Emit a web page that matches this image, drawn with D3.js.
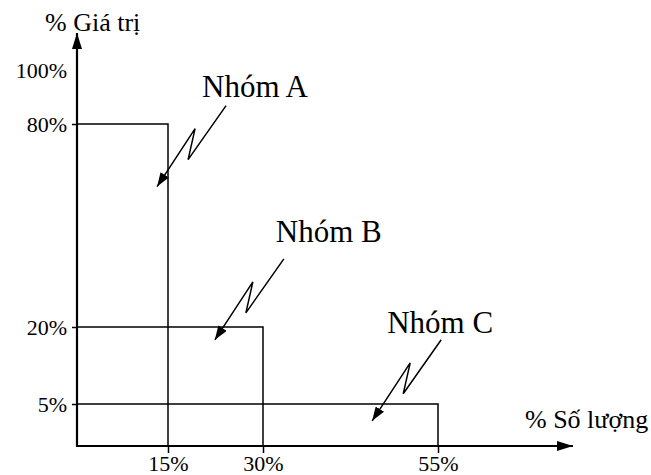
<!DOCTYPE html>
<html>
<head>
<meta charset="utf-8">
<script src="https://cdn.jsdelivr.net/npm/d3@7"></script>
</head>
<body style="margin:0">
<svg id="chart" width="651" height="475"></svg>
<script>
// ABC groups: share of quantity vs share of value
var groups = ["Nhóm A", "Nhóm B", "Nhóm C"];
var qtyPct = [15, 30, 55];
var valuePct = [80, 20, 5];
var yTicks = [5, 20, 80, 100];
var xTicks = [15, 30, 55];
// where each zigzag arrow points (in chart units)
var tipQty = [13.2, 22.4, 45.6];
var tipValue = [61.5, 17.5, 3];

var FONT = "Liberation Serif";

var svg = d3.select("#chart");

// the diagram is schematic, so the scales are piecewise
var x = d3.scaleLinear().domain([0, 15, 30, 55]).range([77, 168, 263, 438]);
var y = d3.scaleLinear().domain([0, 5, 20, 80, 100]).range([446, 404, 327, 124, 70]);

var defs = svg.append("defs");
defs.append("marker")
    .attr("id", "head")
    .attr("viewBox", "0 0 16 10")
    .attr("refX", 16).attr("refY", 5)
    .attr("markerWidth", 16).attr("markerHeight", 10)
    .attr("markerUnits", "userSpaceOnUse")
    .attr("orient", "auto")
  .append("path").attr("d", "M0,0L16,5L0,10Z").attr("fill", "#000");
defs.append("marker")
    .attr("id", "small")
    .attr("viewBox", "0 0 14 10")
    .attr("refX", 14).attr("refY", 5)
    .attr("markerWidth", 14).attr("markerHeight", 10)
    .attr("markerUnits", "userSpaceOnUse")
    .attr("orient", "auto")
  .append("path").attr("d", "M0,0L14,5L0,10Z").attr("fill", "#000");

// axes
var yAxis = svg.append("g")
    .attr("transform", "translate(" + x(0) + ",0)")
    .call(d3.axisLeft(y).tickValues(yTicks).tickSize(5).tickPadding(5)
      .tickFormat(function(d) { return d + "%"; }));
yAxis.select(".domain").remove();
yAxis.selectAll(".tick line").attr("stroke-width", 1.5)
    .filter(function(d) { return d === 100; }).remove();
yAxis.selectAll("text").attr("fill", "#000")
    .attr("font-family", FONT).attr("font-size", 22);

var xAxis = svg.append("g")
    .attr("transform", "translate(0," + y(0) + ")")
    .call(d3.axisBottom(x).tickValues(xTicks).tickSize(7).tickPadding(2)
      .tickFormat(function(d) { return d + "%"; }));
xAxis.select(".domain").remove();
xAxis.selectAll(".tick line").attr("stroke-width", 1.5);
xAxis.selectAll("text").attr("fill", "#000")
    .attr("font-family", FONT).attr("font-size", 22);

svg.append("line")
    .attr("x1", x(0)).attr("y1", y(0) + 1)
    .attr("x2", x(0)).attr("y2", 33)
    .attr("stroke", "#000").attr("stroke-width", 2.2)
    .attr("marker-end", "url(#head)");
svg.append("line")
    .attr("x1", x(0) - 1).attr("y1", y(0))
    .attr("x2", 573).attr("y2", y(0))
    .attr("stroke", "#000").attr("stroke-width", 2.2)
    .attr("marker-end", "url(#head)");

svg.append("text").attr("x", 45).attr("y", 31)
    .attr("font-family", FONT).attr("font-size", 26).text("% Giá trị");
svg.append("text").attr("x", 525).attr("y", 428)
    .attr("font-family", FONT).attr("font-size", 26).text("% Số lượng");

// the three group blocks
svg.selectAll(".block")
    .data(groups)
  .enter().append("path")
    .attr("class", "block")
    .attr("fill", "none").attr("stroke", "#000").attr("stroke-width", 1.5)
    .attr("d", function(d, i) {
      return "M" + x(0) + "," + y(valuePct[i]) +
             "H" + x(qtyPct[i]) + "V" + y(0);
    });

// zigzag arrows with labels
var zig = [[69, -81], [31, -27], [38, -58], [0, 0]];
var labelOff = [[45, -90], [61, -98], [15, -88]];

groups.forEach(function(name, i) {
  var tx = x(tipQty[i]), ty = y(tipValue[i]);
  svg.append("path")
      .attr("fill", "none").attr("stroke", "#000").attr("stroke-width", 1.5)
      .attr("marker-end", "url(#small)")
      .attr("d", d3.line()(zig.map(function(p) { return [tx + p[0], ty + p[1]]; })));
  svg.append("text")
      .attr("x", tx + labelOff[i][0]).attr("y", ty + labelOff[i][1])
      .attr("font-family", FONT).attr("font-size", 31).text(name);
});
</script>
</body>
</html>
